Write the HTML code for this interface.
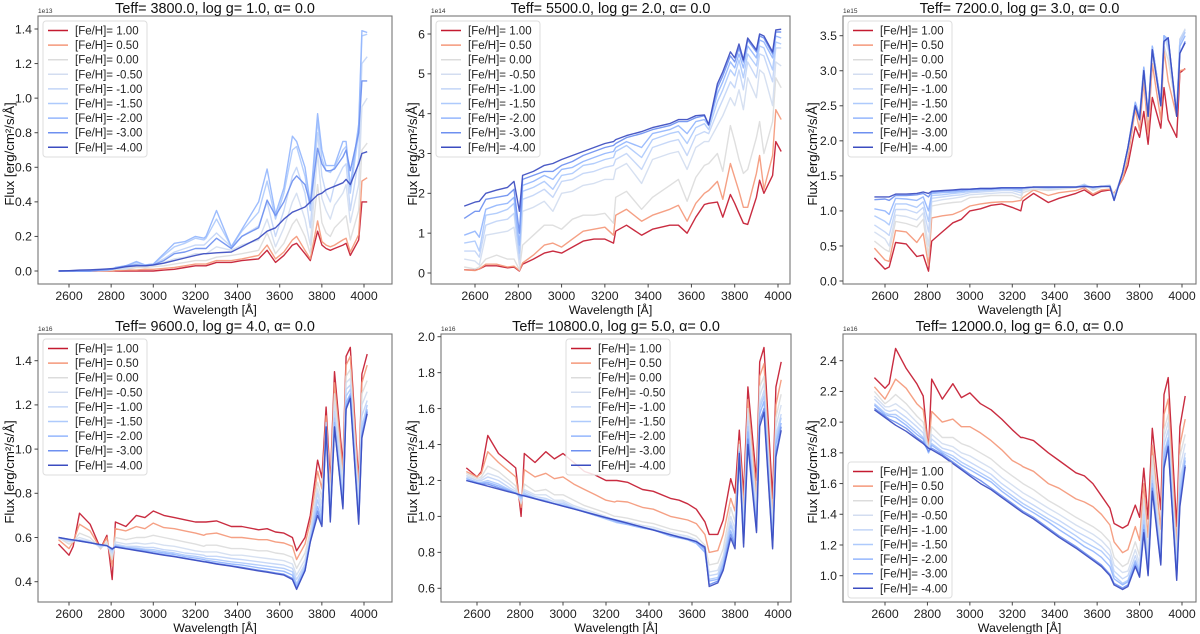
<!DOCTYPE html>
<html><head><meta charset="utf-8"><style>
body{margin:0;background:#fff;}
svg{display:block;font-family:"Liberation Sans",sans-serif;}
</style></head><body>
<svg id="chart" width="1200" height="634" viewBox="0 0 1200 634" xmlns="http://www.w3.org/2000/svg"></svg>
<script>
const wavelengths=[2550,2600,2620,2650,2700,2750,2780,2805,2820,2870,2920,2960,3000,3050,3100,3150,3200,3240,3250,3300,3370,3420,3500,3540,3580,3620,3660,3680,3720,3745,3780,3800,3820,3840,3860,3900,3915,3935,3975,3990,4015];
const metallicityLabels=["1.00","0.50","0.00","-0.50","-1.00","-1.50","-2.00","-3.00","-4.00"];
const seriesColors=["#c41a30","#f4987a","#dcdcdc","#d3ddf0","#c2d5f7","#aecafc","#94b6fd","#6e90f0","#3b4cc0"];
const panelTitles=["Teff= 3800.0, log g= 1.0, α= 0.0","Teff= 5500.0, log g= 2.0, α= 0.0","Teff= 7200.0, log g= 3.0, α= 0.0","Teff= 9600.0, log g= 4.0, α= 0.0","Teff= 10800.0, log g= 5.0, α= 0.0","Teff= 12000.0, log g= 6.0, α= 0.0"];
const xTicks=[2600,2800,3000,3200,3400,3600,3800,4000];
const yTicks1=[0,0.2,0.4,0.6,0.8,1.0,1.2,1.4];
const yTicks2=[0,1,2,3,4,5,6];
const yTicks3=[0,0.5,1.0,1.5,2.0,2.5,3.0,3.5];
const yTicks4=[0.4,0.6,0.8,1.0,1.2,1.4];
const yTicks5=[0.6,0.8,1.0,1.2,1.4,1.6,1.8,2.0];
const yTicks6=[1.0,1.2,1.4,1.6,1.8,2.0,2.2,2.4];
const offsetLabels=["1e13","1e14","1e15","1e16","1e16","1e16"];

const flux3800=[
[0,0,0,0,0,0,0,0,0,0,0,0,0,.005,.01,.02,.03,.03,.03,.05,.05,.06,.07,.12,.05,.09,.15,.16,.10,.06,.23,.15,.13,.12,.13,.15,.16,.09,.18,.40,.40],
[0,0,0,0,0,0,0,0,.003,.005,.005,.01,.01,.015,.02,.03,.04,.04,.04,.06,.06,.07,.09,.15,.07,.11,.18,.2,.12,.07,.29,.17,.15,.14,.15,.18,.19,.11,.21,.52,.54],
[0,0,0,0,0,.002,.003,.005,.01,.01,.02,.02,.025,.03,.04,.05,.06,.06,.06,.08,.09,.1,.12,.22,.1,.16,.27,.3,.2,.1,.5,.28,.22,.2,.25,.3,.32,.18,.35,.7,.74],
[0,0,0,0,0,.003,.005,.008,.01,.015,.03,.03,.03,.05,.07,.08,.1,.1,.1,.14,.12,.15,.18,.3,.14,.25,.4,.45,.3,.15,.68,.42,.35,.3,.38,.45,.5,.28,.5,.95,1.0],
[0,0,0,0,0,.004,.006,.01,.015,.02,.04,.03,.04,.07,.11,.13,.15,.15,.16,.22,.14,.2,.26,.4,.2,.35,.55,.6,.45,.25,.8,.55,.45,.4,.5,.6,.62,.35,.65,1.2,1.24],
[0,0,0,0,0,.005,.008,.012,.02,.03,.05,.035,.04,.09,.14,.16,.19,.18,.19,.3,.14,.23,.34,.52,.3,.45,.7,.72,.55,.35,.87,.65,.58,.57,.6,.7,.72,.45,.8,1.36,1.37],
[0,0,0,0,0,.005,.008,.012,.02,.03,.055,.035,.04,.1,.16,.17,.2,.19,.2,.35,.14,.24,.4,.59,.33,.48,.78,.75,.6,.39,.91,.7,.61,.61,.61,.75,.75,.49,.85,1.39,1.38],
[0,0,0,0,0,.005,.007,.01,.015,.03,.035,.03,.035,.06,.1,.11,.13,.13,.13,.19,.13,.2,.25,.41,.32,.4,.52,.55,.5,.39,.71,.62,.58,.58,.59,.66,.7,.58,.8,1.1,1.1],
[0,.002,.003,.005,.007,.01,.012,.014,.015,.025,.03,.03,.035,.045,.06,.075,.09,.1,.1,.105,.11,.14,.19,.23,.25,.3,.34,.35,.37,.4,.44,.45,.47,.48,.49,.51,.53,.50,.62,.68,.69]];

const flux5500=[
[.08,.07,.1,.18,.18,.13,.15,.05,.22,.35,.5,.55,.5,.65,.8,.85,.85,.75,1.05,1.2,.95,1.1,1.2,1.2,1.0,1.4,1.72,1.75,1.78,1.4,1.97,1.75,1.5,1.25,1.22,1.9,2.33,2.0,2.45,3.3,3.05],
[.08,.06,.1,.22,.22,.15,.17,.06,.25,.45,.7,.75,.65,.85,1.05,1.1,1.15,.95,1.45,1.6,1.3,1.45,1.6,1.7,1.3,1.75,2.0,2.07,2.3,1.85,2.75,2.4,2.05,1.65,1.65,2.5,2.95,2.1,2.95,4.1,3.85],
[.15,.1,.15,.35,.45,.35,.35,.08,.7,.95,1.2,1.2,1.1,1.35,1.45,1.45,1.5,1.25,1.9,2.05,1.6,1.9,2.2,2.35,1.8,2.4,2.7,2.75,3.0,2.55,3.7,3.3,2.85,2.5,2.6,3.4,3.8,3.0,3.8,4.9,4.65],
[.35,.3,.2,.95,1.0,1.05,1.15,.2,1.55,1.65,1.8,1.55,2.0,2.05,2.2,2.25,2.35,2.35,2.6,2.75,2.25,2.85,3.0,3.05,2.6,3.15,3.3,3.3,3.7,3.95,4.4,4.2,4.6,4.1,4.9,4.4,5.1,5.0,4.2,5.3,5.2],
[.55,.55,.4,1.2,1.3,1.35,1.5,.35,1.85,1.95,2.1,1.9,2.3,2.35,2.5,2.55,2.65,2.7,2.85,3.0,2.6,3.15,3.3,3.35,2.95,3.45,3.55,3.5,4.05,4.35,4.8,4.65,5.1,4.6,5.3,4.9,5.5,5.45,4.8,5.65,5.65],
[.75,.8,.55,1.45,1.5,1.6,1.75,.5,2.05,2.15,2.3,2.1,2.45,2.5,2.7,2.75,2.85,2.9,3.05,3.2,2.9,3.35,3.5,3.55,3.25,3.65,3.75,3.6,4.3,4.6,5.1,4.95,5.35,4.9,5.5,5.2,5.7,5.65,5.1,5.8,5.75],
[.95,1.05,.9,1.6,1.7,1.75,1.9,.7,2.2,2.3,2.45,2.35,2.6,2.65,2.8,2.9,3.0,3.05,3.15,3.3,3.15,3.5,3.6,3.7,3.5,3.8,3.85,3.7,4.5,4.8,5.3,5.15,5.5,5.15,5.7,5.4,5.85,5.8,5.4,5.95,5.9],
[1.37,1.55,1.55,1.85,1.9,1.95,2.1,1.0,2.35,2.45,2.55,2.55,2.7,2.8,2.95,3.05,3.15,3.2,3.25,3.4,3.5,3.6,3.7,3.8,3.8,3.9,3.95,3.72,4.65,4.95,5.45,5.3,5.65,5.3,5.85,5.55,5.95,5.9,5.5,6.05,6.05],
[1.68,1.78,1.8,2.0,2.08,2.15,2.3,1.55,2.45,2.55,2.7,2.75,2.85,2.95,3.05,3.15,3.25,3.3,3.35,3.45,3.55,3.65,3.75,3.85,3.85,3.95,3.97,3.72,4.75,5.05,5.55,5.4,5.75,5.35,5.9,5.6,6.0,5.95,5.55,6.1,6.12]];

const flux7200=[
[.33,.17,.2,.55,.53,.35,.37,.14,.57,.7,.83,.88,1.0,1.03,1.08,1.1,1.05,1.0,1.14,1.25,1.12,1.18,1.25,1.3,1.22,1.28,1.3,1.25,1.45,1.65,2.2,2.05,2.42,1.95,2.62,2.18,2.76,2.3,2.05,2.97,3.03],
[.47,.3,.28,.72,.7,.55,.68,.22,.9,.93,.95,1.0,1.07,1.1,1.12,1.13,1.13,1.15,1.19,1.3,1.22,1.26,1.29,1.33,1.24,1.3,1.31,1.25,1.45,1.75,2.45,2.15,2.85,2.1,3.1,2.3,3.3,2.85,2.35,3.0,3.02],
[.57,.45,.42,.85,.82,.77,.88,.35,1.07,1.1,1.12,1.13,1.19,1.2,1.22,1.22,1.22,1.18,1.26,1.31,1.29,1.31,1.33,1.38,1.29,1.34,1.36,1.22,1.52,1.85,2.5,2.3,2.95,2.3,3.25,2.5,3.35,3.15,2.4,3.45,3.55],
[.7,.6,.5,.94,.92,.87,.97,.5,1.13,1.16,1.18,1.2,1.23,1.24,1.25,1.26,1.26,1.22,1.29,1.33,1.31,1.32,1.34,1.38,1.31,1.35,1.37,1.2,1.55,1.9,2.55,2.35,3.05,2.35,3.35,2.55,3.5,3.3,2.4,3.45,3.6],
[.8,.7,.65,1.02,1.02,.97,1.05,.7,1.18,1.2,1.22,1.23,1.26,1.27,1.28,1.29,1.29,1.26,1.31,1.34,1.32,1.33,1.34,1.38,1.32,1.35,1.36,1.18,1.55,1.9,2.55,2.35,3.05,2.35,3.35,2.55,3.5,3.35,2.4,3.45,3.58],
[.93,.85,.8,1.1,1.1,1.05,1.13,.85,1.22,1.23,1.25,1.26,1.28,1.29,1.3,1.31,1.31,1.29,1.32,1.34,1.33,1.34,1.34,1.37,1.33,1.35,1.36,1.17,1.55,1.9,2.55,2.35,3.05,2.35,3.35,2.55,3.5,3.4,2.4,3.4,3.55],
[1.03,1.0,.95,1.18,1.17,1.15,1.2,1.0,1.25,1.26,1.27,1.28,1.3,1.31,1.31,1.32,1.32,1.31,1.33,1.34,1.34,1.34,1.34,1.36,1.34,1.35,1.35,1.16,1.55,1.9,2.55,2.35,3.05,2.35,3.35,2.55,3.5,3.45,2.4,3.35,3.5],
[1.16,1.17,1.15,1.22,1.22,1.23,1.25,1.2,1.27,1.28,1.29,1.3,1.31,1.32,1.32,1.33,1.33,1.33,1.33,1.34,1.34,1.34,1.34,1.35,1.34,1.35,1.35,1.15,1.55,1.9,2.5,2.32,3.0,2.35,3.3,2.5,3.42,3.47,2.35,3.25,3.42],
[1.2,1.2,1.2,1.24,1.24,1.25,1.27,1.25,1.28,1.29,1.3,1.31,1.31,1.32,1.32,1.33,1.33,1.33,1.33,1.34,1.34,1.34,1.34,1.35,1.34,1.35,1.35,1.15,1.55,1.9,2.5,2.3,3.0,2.35,3.3,2.5,3.42,3.47,2.35,3.25,3.4]];

const flux9600=[
[.57,.52,.56,.71,.66,.55,.61,.41,.67,.65,.7,.69,.72,.7,.69,.68,.67,.67,.67,.675,.65,.65,.635,.64,.625,.62,.6,.54,.6,.7,.95,.87,1.19,.85,1.35,.93,1.42,1.46,.85,1.34,1.43],
[.59,.55,.58,.66,.63,.55,.6,.47,.64,.63,.65,.64,.665,.645,.64,.63,.62,.61,.615,.62,.6,.6,.59,.59,.58,.575,.56,.5,.57,.67,.9,.82,1.15,.82,1.3,.9,1.38,1.42,.82,1.3,1.38],
[.6,.57,.58,.62,.6,.55,.58,.5,.6,.59,.6,.6,.61,.6,.59,.58,.57,.56,.565,.565,.55,.55,.54,.54,.53,.525,.51,.46,.53,.63,.85,.78,1.1,.78,1.25,.85,1.33,1.36,.78,1.25,1.31],
[.6,.58,.585,.6,.585,.555,.57,.52,.58,.57,.575,.57,.575,.565,.56,.55,.54,.535,.535,.535,.52,.52,.51,.505,.5,.495,.48,.43,.5,.61,.82,.75,1.07,.75,1.2,.82,1.3,1.32,.75,1.2,1.26],
[.6,.585,.585,.59,.58,.56,.565,.53,.57,.56,.56,.555,.555,.545,.54,.53,.525,.52,.515,.515,.505,.5,.49,.485,.48,.475,.46,.41,.48,.6,.8,.72,1.05,.72,1.17,.79,1.27,1.29,.72,1.15,1.22],
[.6,.59,.585,.587,.578,.563,.563,.54,.565,.555,.553,.547,.545,.536,.53,.52,.515,.508,.505,.5,.49,.485,.475,.47,.465,.46,.445,.39,.47,.59,.77,.7,1.12,.7,1.14,.77,1.24,1.27,.7,1.1,1.2],
[.6,.59,.588,.585,.577,.565,.563,.545,.562,.552,.548,.542,.537,.53,.523,.513,.507,.5,.497,.49,.48,.475,.463,.458,.452,.447,.43,.38,.46,.585,.74,.68,1.1,.69,1.12,.75,1.21,1.25,.68,1.07,1.18],
[.6,.592,.589,.584,.576,.567,.563,.55,.558,.55,.542,.537,.53,.522,.515,.506,.498,.492,.49,.482,.472,.465,.452,.446,.44,.434,.415,.37,.45,.58,.72,.66,1.1,.68,1.1,.74,1.19,1.24,.67,1.06,1.17],
[.6,.592,.589,.584,.576,.568,.563,.548,.557,.549,.541,.535,.528,.52,.513,.505,.497,.49,.489,.48,.47,.462,.449,.443,.436,.43,.41,.365,.45,.58,.7,.65,1.1,.67,1.1,.73,1.18,1.23,.66,1.05,1.16]];

const flux10800=[
[1.27,1.22,1.25,1.45,1.35,1.3,1.27,1.0,1.35,1.3,1.36,1.32,1.35,1.3,1.25,1.23,1.2,1.2,1.2,1.19,1.15,1.14,1.1,1.09,1.07,1.04,.97,.9,.9,.98,1.21,1.13,1.48,1.12,1.72,1.2,1.86,1.94,1.1,1.72,1.86],
[1.25,1.22,1.24,1.36,1.3,1.25,1.22,1.05,1.26,1.22,1.24,1.21,1.22,1.18,1.15,1.12,1.09,1.08,1.085,1.08,1.05,1.04,1.0,.99,.98,.96,.9,.8,.81,.9,1.1,1.03,1.42,1.05,1.65,1.12,1.78,1.85,1.0,1.62,1.76],
[1.24,1.21,1.22,1.28,1.25,1.2,1.17,1.07,1.18,1.14,1.15,1.12,1.12,1.09,1.06,1.04,1.02,1.0,1.0,.99,.97,.96,.93,.92,.91,.89,.84,.73,.74,.82,1.05,.97,1.4,.98,1.6,1.05,1.72,1.78,.95,1.55,1.68],
[1.23,1.2,1.21,1.24,1.22,1.18,1.15,1.08,1.15,1.12,1.12,1.09,1.09,1.06,1.04,1.02,1.0,.98,.98,.97,.95,.94,.91,.9,.89,.87,.82,.69,.7,.78,1.0,.93,1.38,.95,1.57,1.0,1.67,1.74,.9,1.5,1.62],
[1.22,1.2,1.2,1.22,1.2,1.16,1.14,1.09,1.14,1.11,1.1,1.08,1.08,1.05,1.03,1.01,.99,.97,.97,.96,.94,.93,.9,.89,.88,.86,.81,.67,.68,.76,.97,.9,1.37,.92,1.53,.97,1.62,1.7,.88,1.45,1.57],
[1.21,1.19,1.19,1.2,1.18,1.15,1.13,1.1,1.13,1.1,1.09,1.07,1.07,1.045,1.025,1.005,.985,.97,.965,.955,.935,.925,.895,.885,.875,.855,.805,.65,.66,.74,.95,.88,1.36,.9,1.5,.95,1.6,1.67,.86,1.42,1.55],
[1.21,1.19,1.185,1.19,1.17,1.145,1.13,1.11,1.12,1.1,1.085,1.07,1.06,1.045,1.025,1.005,.99,.975,.97,.955,.935,.925,.89,.88,.87,.85,.8,.64,.65,.73,.92,.86,1.36,.88,1.47,.94,1.57,1.64,.85,1.4,1.52],
[1.2,1.185,1.18,1.18,1.16,1.14,1.13,1.115,1.115,1.1,1.083,1.07,1.058,1.042,1.026,1.01,.994,.982,.979,.963,.941,.925,.899,.886,.874,.861,.82,.62,.64,.71,.9,.84,1.35,.85,1.43,.92,1.53,1.6,.83,1.35,1.5],
[1.2,1.184,1.178,1.168,1.152,1.136,1.127,1.119,1.114,1.098,1.082,1.07,1.057,1.041,1.025,1.009,.993,.981,.978,.962,.94,.924,.898,.885,.873,.86,.83,.61,.63,.7,.88,.82,1.35,.83,1.4,.91,1.5,1.58,.82,1.33,1.48]];

const flux12000=[
[2.29,2.22,2.25,2.48,2.35,2.25,2.17,1.82,2.28,2.15,2.25,2.16,2.19,2.12,2.08,2.02,1.95,1.9,1.9,1.88,1.8,1.75,1.67,1.65,1.6,1.52,1.44,1.34,1.31,1.33,1.46,1.38,1.7,1.37,1.96,1.43,2.18,2.29,1.32,1.97,2.17],
[2.23,2.15,2.2,2.28,2.22,2.12,2.08,1.83,2.07,2.0,2.02,1.97,1.97,1.93,1.88,1.82,1.75,1.72,1.71,1.68,1.6,1.57,1.5,1.48,1.45,1.4,1.33,1.22,1.15,1.17,1.32,1.23,1.6,1.25,1.85,1.3,2.05,2.15,1.2,1.85,2.02],
[2.2,2.12,2.14,2.18,2.12,2.04,2.0,1.82,1.97,1.9,1.9,1.86,1.84,1.8,1.76,1.7,1.65,1.61,1.6,1.56,1.49,1.45,1.38,1.35,1.32,1.28,1.22,1.12,1.06,1.08,1.22,1.13,1.5,1.15,1.78,1.2,1.95,2.05,1.12,1.78,1.92],
[2.17,2.1,2.1,2.12,2.07,2.0,1.96,1.81,1.92,1.86,1.84,1.8,1.78,1.74,1.7,1.64,1.59,1.55,1.54,1.5,1.44,1.4,1.33,1.3,1.27,1.23,1.17,1.07,1.02,1.03,1.17,1.08,1.45,1.1,1.7,1.15,1.9,2.0,1.07,1.7,1.86],
[2.15,2.08,2.07,2.08,2.03,1.97,1.93,1.8,1.89,1.83,1.81,1.77,1.74,1.7,1.66,1.6,1.55,1.51,1.5,1.46,1.4,1.36,1.29,1.26,1.23,1.19,1.13,1.03,.98,1.0,1.13,1.05,1.4,1.07,1.65,1.12,1.85,1.95,1.04,1.62,1.8],
[2.12,2.06,2.05,2.05,2.0,1.94,1.9,1.8,1.86,1.81,1.78,1.74,1.71,1.67,1.63,1.57,1.52,1.48,1.47,1.43,1.37,1.33,1.26,1.22,1.19,1.16,1.1,1.0,.95,.97,1.1,1.03,1.36,1.05,1.62,1.1,1.8,1.9,1.02,1.57,1.77],
[2.11,2.05,2.04,2.03,1.98,1.92,1.89,1.8,1.85,1.8,1.76,1.72,1.69,1.65,1.61,1.55,1.5,1.46,1.45,1.41,1.35,1.3,1.23,1.19,1.16,1.12,1.06,.98,.94,.96,1.09,1.02,1.33,1.03,1.6,1.09,1.77,1.88,1.0,1.52,1.75],
[2.09,2.04,2.02,2.0,1.96,1.9,1.87,1.81,1.83,1.79,1.74,1.7,1.66,1.62,1.57,1.52,1.47,1.43,1.42,1.38,1.31,1.26,1.19,1.15,1.11,1.07,1.01,.95,.92,.94,1.07,1.0,1.3,1.01,1.57,1.08,1.72,1.85,.98,1.48,1.72],
[2.08,2.03,2.01,1.98,1.94,1.89,1.86,1.83,1.82,1.78,1.73,1.69,1.65,1.6,1.56,1.51,1.46,1.42,1.41,1.37,1.3,1.25,1.18,1.14,1.1,1.06,1.0,.94,.91,.93,1.06,.99,1.28,1.0,1.55,1.07,1.7,1.84,.97,1.45,1.71]];

const panels=[
 {flux:flux3800,yt:yTicks1,dec:1,L:38,R:392,T:16,B:284,x0:69,x1:364,yv0:0,yp0:271,yv1:1.4,yp1:29,leg:[43,21],ylx:10},
 {flux:flux5500,yt:yTicks2,dec:0,L:431,R:790,T:16,B:284,x0:475,x1:778,yv0:0,yp0:273,yv1:6,yp1:34,leg:[436,21],ylx:413},
 {flux:flux7200,yt:yTicks3,dec:1,L:843,R:1196,T:16,B:284,x0:885,x1:1182,yv0:0,yp0:281,yv1:3.5,yp1:35.7,leg:[848,21],ylx:813},
 {flux:flux9600,yt:yTicks4,dec:1,L:38,R:392,T:334,B:602,x0:69,x1:364,yv0:0.4,yp0:581.7,yv1:1.4,yp1:360.7,leg:[43,339],ylx:10},
 {flux:flux10800,yt:yTicks5,dec:1,L:441,R:791,T:334,B:602,x0:477,x1:778,yv0:0.6,yp0:588.3,yv1:2.0,yp1:336.7,leg:[566,339],ylx:413},
 {flux:flux12000,yt:yTicks6,dec:1,L:843,R:1196,T:334,B:602,x0:885,x1:1182,yv0:1.0,yp0:575.7,yv1:2.4,yp1:360.7,leg:[848,462],ylx:813}];

const NS="http://www.w3.org/2000/svg";
const svg=document.getElementById('chart');
function mk(tag,attrs,parent,text){const e=document.createElementNS(NS,tag);for(const k in attrs)e.setAttribute(k,attrs[k]);if(text!==undefined)e.textContent=text;parent.appendChild(e);return e;}

panels.forEach((p,pi)=>{
  const g=mk('g',{},svg);
  
  
  const xs=w=>p.x0+(w-2600)*(p.x1-p.x0)/1400;
  const ys=v=>p.yp0+(v-p.yv0)*(p.yp1-p.yp0)/(p.yv1-p.yv0);
  const clipId='clip'+pi;
  const cp=mk('clipPath',{id:clipId},g);mk('rect',{x:p.L,y:p.T,width:p.R-p.L,height:p.B-p.T},cp);
  const lg=mk('g',{'clip-path':'url(#'+clipId+')'},g);
  p.flux.forEach((vals,si)=>{
    const d=vals.map((v,i)=>(i?'L':'M')+xs(wavelengths[i]).toFixed(1)+','+ys(v).toFixed(1)).join('');
    const path=mk('path',{d:d,fill:'none',stroke:seriesColors[si],'stroke-width':1.4,'stroke-linejoin':'round','stroke-opacity':0.92},lg);
    
    
  });
  const fr=mk('rect',{x:p.L,y:p.T,width:p.R-p.L,height:p.B-p.T,fill:'none',stroke:'#777','stroke-width':1.1},g);
  
  
  xTicks.forEach(t=>{
    const x=xs(t);
    mk('line',{x1:x,x2:x,y1:p.B,y2:p.B+3.5,stroke:'#444','stroke-width':1},g);
    const tl=mk('text',{x:x,y:p.B+16,'text-anchor':'middle','font-size':12.3,fill:'#222'},g,String(t));
    
    
  });
  p.yt.forEach(t=>{
    const y=ys(t);
    mk('line',{x1:p.L-3.5,x2:p.L,y1:y,y2:y,stroke:'#444','stroke-width':1},g);
    const tl=mk('text',{x:p.L-6,y:y+4.3,'text-anchor':'end','font-size':12.3,fill:'#222'},g,t.toFixed(p.dec));
    
    
  });
  const off=mk('text',{x:p.L,y:p.T-3,'font-size':6.5,fill:'#333'},g,offsetLabels[pi]);
  
  
  const ti=mk('text',{x:(p.L+p.R)/2,y:p.T-3,'text-anchor':'middle','font-size':14.4,fill:'#111'},g,panelTitles[pi]);
  
  
  const xl=mk('text',{x:(p.L+p.R)/2,y:p.B+30,'text-anchor':'middle','font-size':12.4,fill:'#111'},g,'Wavelength [Å]');
  
  
  const cy=(p.T+p.B)/2;
  const yl=mk('text',{x:p.ylx,y:cy,'text-anchor':'middle','font-size':13.2,fill:'#111',transform:'rotate(-90 '+(p.ylx+4)+' '+cy+')'},g,'Flux [erg/cm²/s/Å]');
  
  
  const [lx,ly]=p.leg;
  const leg=mk('g',{},g);
  
  
  mk('rect',{x:lx,y:ly,width:104,height:136,rx:3,fill:'#fff','fill-opacity':0.85,stroke:'#ddd','stroke-width':1},leg);
  metallicityLabels.forEach((m,si)=>{
    const ry=ly+9.5+si*14.6;
    const e=mk('g',{},leg);
    
    
    mk('line',{x1:lx+5,x2:lx+25,y1:ry,y2:ry,stroke:seriesColors[si],'stroke-width':1.5},e);
    mk('text',{x:lx+32,y:ry+4,'font-size':11.5,fill:'#222'},e,'[Fe/H]= '+m);
  });
});
</script>
</body></html>
